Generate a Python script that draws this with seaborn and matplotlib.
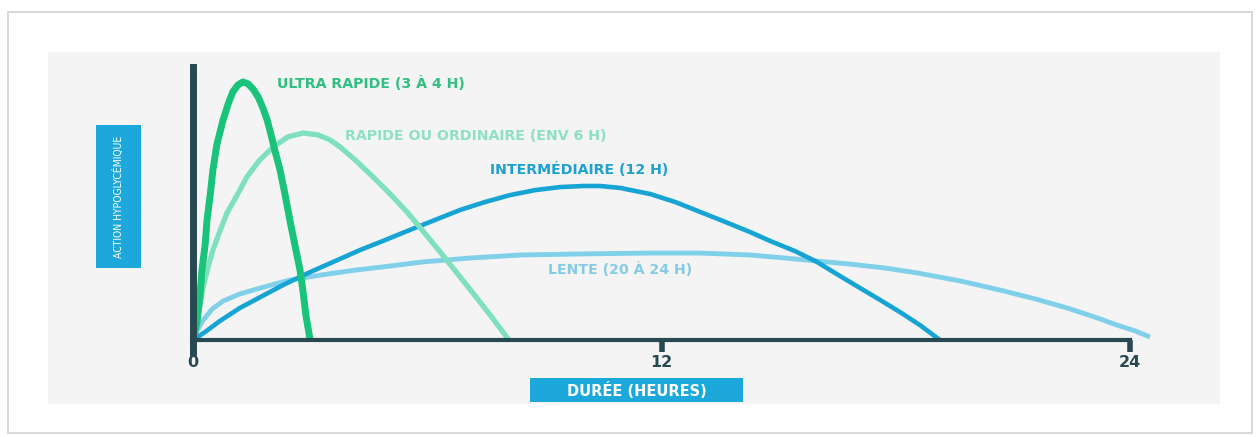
import matplotlib
matplotlib.use("Agg")
import matplotlib.pyplot as plt
from matplotlib.patches import Rectangle
import pandas as pd
import seaborn as sns

# Insulin action profiles: duration (hours) vs. relative hypoglycaemic action (0-100)
ultra_h = [0, 0.10, 0.18, 0.23, 0.31, 0.36, 0.44, 0.51, 0.61, 0.77, 0.90, 1.02, 1.15, 1.28,
           1.41, 1.54, 1.67, 1.79, 1.90, 2.00, 2.10, 2.23, 2.36, 2.48, 2.61, 2.74, 2.82,
           2.89, 3.00]
ultra_v = [0, 6.2, 16.3, 25.4, 34.4, 43.5, 52.5, 61.6, 70.7, 79.7, 85.5, 89.9, 92.4, 93.5,
           92.8, 90.9, 88.0, 84.1, 79.7, 74.3, 68.5, 61.6, 52.5, 43.5, 34.4, 25.4, 17.4,
           9.1, 0]

rapide_h = [0, 0.10, 0.18, 0.26, 0.38, 0.51, 0.69, 0.87, 1.13, 1.38, 1.69, 2.05, 2.43, 2.82,
            3.20, 3.51, 3.77, 4.18, 4.61, 5.05, 5.48, 5.89, 6.33, 6.76, 7.17, 7.61, 8.09]
rapide_v = [0, 6.2, 12.7, 19.2, 26.1, 32.6, 39.5, 46.0, 52.5, 59.1, 64.9, 69.9, 73.6, 75.0,
            74.3, 72.5, 69.9, 64.9, 59.1, 52.9, 46.4, 39.5, 31.9, 24.3, 17.0, 9.1, 0]

inter_h = [0, 0.31, 0.69, 1.20, 1.77, 2.36, 3.00, 3.64, 4.28, 4.92, 5.56, 6.20, 6.84, 7.48,
           8.12, 8.76, 9.40, 9.99, 10.43, 10.94, 11.71, 12.35, 12.99, 13.63, 14.27, 14.78,
           15.42, 15.98, 16.57, 17.09, 17.60, 18.11, 18.62, 19.13]
inter_v = [0, 2.9, 6.9, 11.6, 15.9, 20.3, 24.6, 28.6, 32.6, 36.2, 39.9, 43.5, 47.1, 50.0,
           52.5, 54.3, 55.4, 55.8, 55.8, 55.1, 52.9, 50.0, 46.4, 42.8, 39.1, 35.9,
           32.2, 28.3, 23.2, 18.8, 14.5, 10.1, 5.4, 0]

lente_h = [0, 0.10, 0.26, 0.49, 0.77, 1.20, 1.64, 2.10, 2.48, 3.30, 4.20, 5.05, 5.89, 7.10,
           8.38, 10.04, 11.71, 12.99, 14.27, 15.16, 15.98, 16.83, 17.72, 18.55, 19.65,
           20.67, 21.57, 22.39, 23.10, 23.67, 24.13, 24.51]
lente_v = [0, 3.3, 7.2, 11.2, 14.1, 16.7, 18.5, 20.3, 21.7, 23.6, 25.4, 26.8, 28.3, 29.7,
           30.8, 31.2, 31.5, 31.5, 30.8, 29.7, 28.6, 27.5, 26.1, 24.3, 21.4,
           18.1, 14.9, 11.6, 8.3, 5.4, 3.3, 1.1]

series_names = ["ULTRA RAPIDE (3 À 4 H)", "RAPIDE OU ORDINAIRE (ENV 6 H)",
                "INTERMÉDIAIRE (12 H)", "LENTE (20 À 24 H)"]
x_ticks = [0, 12, 24]
x_tick_labels = ["0", "12", "24"]
y_title = "ACTION HYPOGLYCÉMIQUE"
x_title = "DURÉE (HEURES)"

line_colors = ["#19c37a", "#7fe0bf", "#15a4d4", "#80d0ea"]
text_colors = ["#2fbf7f", "#8ee0c4", "#1ea1d0", "#86cbe6"]
line_widths = [5.0, 3.8, 3.3, 3.5]
axis_color = "#284952"
box_color = "#1ca8db"

frames = []
for name, h, v in zip(series_names,
                      [ultra_h, rapide_h, inter_h, lente_h],
                      [ultra_v, rapide_v, inter_v, lente_v]):
    frames.append(pd.DataFrame({"heures": h, "action": v, "type": name}))
df = pd.concat(frames, ignore_index=True)

sns.set_theme(style="white")
plt.rcParams["font.family"] = ["DejaVu Sans"]

W, H = 1259, 437
fig = plt.figure(figsize=(W / 100, H / 100), dpi=100)
fig.patch.set_facecolor("white")


def fig_rect(x0, y0, x1, y1, **kw):
    """Rectangle given in pixel coordinates measured from the top-left corner."""
    r = Rectangle((x0 / W, 1 - y1 / H), (x1 - x0) / W, (y1 - y0) / H,
                  transform=fig.transFigure, **kw)
    fig.patches.append(r)
    return r


# outer card and grey panel
fig_rect(8, 12, 1252, 433, facecolor="white", edgecolor="#d2d2d2", linewidth=1.2, zorder=-3)
fig_rect(48, 52, 1220, 404, facecolor="#f4f4f4", edgecolor="none", zorder=-2)

# plotting area
ax_left, ax_right, ax_top, ax_bottom = 150, 1200, 60, 360
ax = fig.add_axes([ax_left / W, 1 - ax_bottom / H, (ax_right - ax_left) / W, (ax_bottom - ax_top) / H])
ax.set_facecolor("none")
ax.set_zorder(3)

px_per_h = (1130 - 193) / 24
px_per_unit = (340 - 64) / 100
ax.set_xlim(-(193 - ax_left) / px_per_h, (ax_right - 193) / px_per_h)
ax.set_ylim(-(ax_bottom - 340) / px_per_unit, (340 - ax_top) / px_per_unit)

# draw slow curves first so the fast ones sit on top
for i in [3, 2, 1, 0]:
    sub = df[df["type"] == series_names[i]]
    sns.lineplot(data=sub, x="heures", y="action", ax=ax, color=line_colors[i],
                 linewidth=line_widths[i], estimator=None, sort=False,
                 legend=False, solid_capstyle="butt", solid_joinstyle="round")

# axes styled as thick bars
for side in ["top", "right"]:
    ax.spines[side].set_visible(False)
ax.spines["left"].set_position(("data", 0))
ax.spines["bottom"].set_position(("data", 0))
ax.spines["left"].set_bounds(-12 / px_per_unit, 99)
ax.spines["bottom"].set_bounds(0, 24)
ax.spines["left"].set_linewidth(5.0)
ax.spines["bottom"].set_linewidth(3.0)
for side in ["left", "bottom"]:
    ax.spines[side].set_color(axis_color)
    ax.spines[side].set_zorder(5)

ax.set_xticks(x_ticks)
ax.set_xticklabels(x_tick_labels, fontsize=11.5, fontweight="bold", color=axis_color)
ax.tick_params(axis="x", direction="out", length=8.5, width=4, color=axis_color, pad=2,
               bottom=True)
ax.set_yticks([])
ax.set_xlabel("")
ax.set_ylabel("")

# curve labels
label_pos = [(2.15, 93.1), (3.89, 73.9), (7.61, 61.6), (9.09, 25.4)]
for name, (lx, ly), c in zip(series_names, label_pos, text_colors):
    ax.text(lx, ly, name, color=c, fontsize=10.2, fontweight="bold", ha="left", va="center")

# axis title boxes
fig_rect(96, 125, 141, 268, facecolor=box_color, edgecolor="none", zorder=1)
fig.text(118.5 / W, 1 - 196.5 / H, y_title, rotation=90, ha="center", va="center",
         color="white", fontsize=7.5, fontstretch="condensed", zorder=2)
fig_rect(530, 378, 743, 402, facecolor=box_color, edgecolor="none", zorder=1)
fig.text(636.5 / W, 1 - 390 / H, x_title, ha="center", va="center", color="white",
         fontsize=10.5, fontweight="bold", zorder=2)

fig.savefig("out.png", dpi=100, facecolor="white")
